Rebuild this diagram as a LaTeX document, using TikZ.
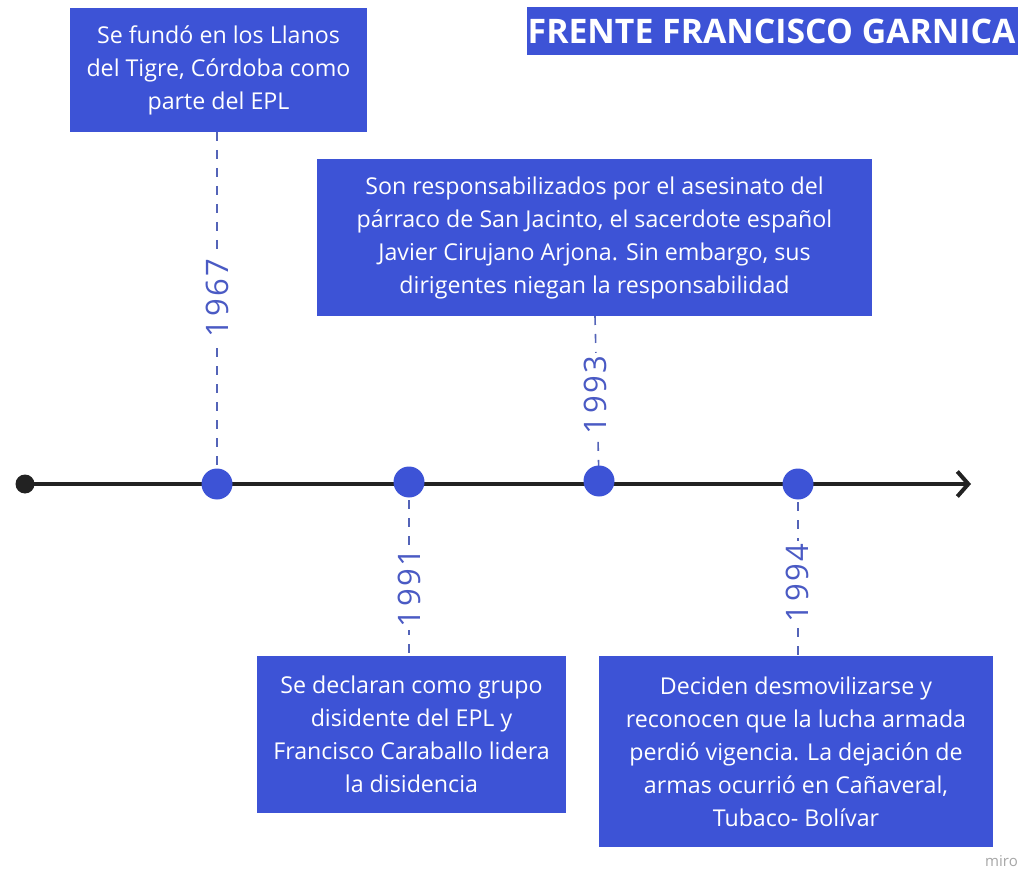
\documentclass[tikz,border=0pt]{standalone}
\usepackage{fontspec}
\setmainfont{Open Sans}
\usetikzlibrary{arrows.meta}
\definecolor{boxblue}{HTML}{3D53D6}
\definecolor{yearblue}{HTML}{4A5AC4}
\definecolor{dashblue}{HTML}{5464B8}
\definecolor{lineblack}{HTML}{222222}
\tikzset{
  infobox/.style={fill=boxblue, draw=none, text=white, align=center, inner sep=0pt,
    font=\fontsize{23.2}{33}\selectfont},
  dot/.style={circle, fill=boxblue, draw=none, minimum size=31pt, inner sep=0pt},
  enddot/.style={circle, fill=lineblack, draw=none, minimum size=19pt, inner sep=0pt},
  yearlabel/.style={fill=white, text=yearblue, rotate=90, inner sep=3pt,
    font=\fontsize{31}{31}\selectfont\addfontfeature{LetterSpace=8}},
  stem/.style={draw=dashblue, line width=1.6pt, dash pattern=on 9pt off 9pt},
  axis/.style={draw=lineblack, line width=4pt, -{Straight Barb[length=11pt,width=25pt]}}
}
\begin{document}
\begin{tikzpicture}[x=1pt,y=-1pt]
\useasboundingbox (0,0) rectangle (1018,869);
% coordinates of stems
\coordinate (s1top) at (217,132);
\coordinate (s2top) at (595,316);
\coordinate (s3bot) at (409,656);
\coordinate (s4bot) at (798,656);
\coordinate (axend) at (971,484);
\path (217,484) coordinate (c1) (409,482) coordinate (c3) (599,481) coordinate (c2) (798,484) coordinate (c4);
% stems
\draw[stem] (s1top) -- (c1);
\draw[stem] (s2top) -- (c2);
\draw[stem] (c3) -- (s3bot);
\draw[stem] (c4) -- (s4bot);
% timeline
\node[enddot] (start) at (25,484) {};
\draw[axis] (start.center) -- (axend);
\node[dot] (d1) at (c1) {};
\node[dot] (d2) at (c2) {};
\node[dot] (d3) at (c3) {};
\node[dot] (d4) at (c4) {};
% title
\fill[boxblue] (527,7) rectangle (1018,55);
\node[anchor=west, text=white, inner sep=0pt, font=\bfseries\fontsize{33.8}{33.8}\selectfont] (title) at (527.5,31.5) {FRENTE FRANCISCO GARNICA};
% boxes
\node[infobox, minimum width=297pt, minimum height=124pt] (b1) at (218.5,70.5)
  {Se fundó en los Llanos\\del Tigre, Córdoba como\\parte del EPL};
\node[infobox, minimum width=555pt, minimum height=157pt] (b2) at (594.5,237.5)
  {Son responsabilizados por el asesinato del\\párraco de San Jacinto, el sacerdote español\\Javier Cirujano Arjona. Sin embargo, sus\\dirigentes niegan la responsabilidad};
\node[infobox, minimum width=309pt, minimum height=157pt] (b3) at (411.5,734.5)
  {Se declaran como grupo\\disidente del EPL y\\Francisco Caraballo lidera\\la disidencia};
\node[infobox, minimum width=394pt, minimum height=191pt] (b4) at (796,751.5)
  {Deciden desmovilizarse y\\reconocen que la lucha armada\\perdió vigencia. La dejación de\\armas ocurrió en Cañaveral,\\Tubaco- Bolívar};
% year labels
\node[yearlabel] (y1) at (217,298) {1967};
\node[yearlabel] (y2) at (595,395) {1993};
\node[yearlabel] (y3) at (409,588) {1991};
\node[yearlabel] (y4) at (797,583) {1994};
% watermark
\node[anchor=west, text=black!35, inner sep=0pt, font=\fontsize{15}{15}\selectfont] (miro) at (985,861) {miro};
\end{tikzpicture}
\end{document}
